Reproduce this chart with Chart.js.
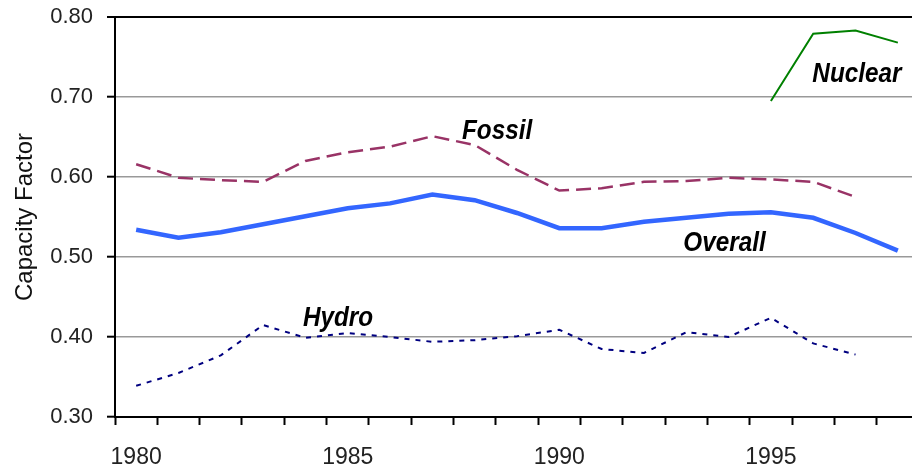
<!DOCTYPE html>
<html>
<head>
<meta charset="utf-8">
<script src="https://cdn.jsdelivr.net/npm/chart.js@4/dist/chart.umd.min.js"></script>
<style>
  html, body { margin: 0; padding: 0; background: #fff; overflow: hidden; }
  #wrap { width: 912px; height: 474px; overflow: hidden; }
</style>
</head>
<body>
<div id="wrap"><canvas id="cf" width="919" height="474"></canvas></div>
<script>
const years = ['1980', '1981', '1982', '1983', '1984', '1985', '1986', '1987', '1988', '1989',
               '1990', '1991', '1992', '1993', '1994', '1995', '1996', '1997', '1998'];
const overall = [0.534, 0.524, 0.531, 0.541, 0.551, 0.561, 0.567, 0.578, 0.571, 0.555,
                 0.536, 0.536, 0.544, 0.549, 0.554, 0.556, 0.549, 0.530, 0.508];
const fossil = [0.616, 0.599, 0.596, 0.594, 0.620, 0.631, 0.638, 0.651, 0.640, 0.609,
                0.583, 0.586, 0.594, 0.595, 0.599, 0.597, 0.594, 0.575, null];
const hydro = [0.339, 0.355, 0.377, 0.415, 0.399, 0.405, 0.400, 0.394, 0.396, 0.401,
               0.409, 0.385, 0.380, 0.406, 0.400, 0.424, 0.392, 0.378, null];
const nuclear = [null, null, null, null, null, null, null, null, null, null,
                 null, null, null, null, null, 0.695, 0.779, 0.783, 0.768];
const yTicks = [0.30, 0.40, 0.50, 0.60, 0.70, 0.80];

// series names written on the plot, anchored in data units (category index, value)
const seriesNames = ['Fossil', 'Overall', 'Hydro', 'Nuclear'];
const nameAtIndex = [7.70, 12.93, 3.94, 15.98];
const nameAtValue = [0.648, 0.5075, 0.414, 0.719];

const seriesLabels = {
    id: 'seriesLabels',
    afterDatasetsDraw(chart) {
        const ctx = chart.ctx;
        const xs = chart.scales.x, ys = chart.scales.y;
        ctx.save();
        ctx.fillStyle = '#000';
        ctx.font = 'italic bold 27px "Liberation Sans", Arial, sans-serif';
        ctx.textBaseline = 'alphabetic';
        ctx.textAlign = 'left';
        seriesNames.forEach((name, i) => {
            const px = xs.getPixelForValue(nameAtIndex[i]);
            const py = ys.getPixelForValue(nameAtValue[i]);
            ctx.save();
            ctx.translate(px, py);
            ctx.scale(0.9, 1);
            ctx.fillText(name, 0, 0);
            ctx.restore();
        });
        ctx.restore();
    }
};

const isTop = v => Math.abs(v - 0.8) < 1e-6;

new Chart(document.getElementById('cf'), {
    type: 'line',
    data: {
        labels: years,
        datasets: [
            { label: 'Overall', data: overall, borderColor: '#3366ff', borderWidth: 4.5, pointRadius: 0, tension: 0 },
            { label: 'Fossil', data: fossil, borderColor: '#993366', borderWidth: 2.5, borderDash: [15, 7], pointRadius: 0, tension: 0 },
            { label: 'Hydro', data: hydro, borderColor: '#000080', borderWidth: 2, borderDash: [5, 6], pointRadius: 0, tension: 0 },
            { label: 'Nuclear', data: nuclear, borderColor: '#008000', borderWidth: 2, pointRadius: 0, tension: 0 }
        ]
    },
    options: {
        responsive: false,
        animation: false,
        devicePixelRatio: 1,
        layout: { padding: { top: 17, right: 0, bottom: 0, left: 0 } },
        plugins: {
            legend: { display: false },
            tooltip: { enabled: false }
        },
        scales: {
            x: {
                type: 'category',
                offset: true,
                afterFit: s => {
                    s.height = 57;
                    s.paddingLeft = 0;
                    s.paddingRight = 0;
                },
                grid: {
                    offset: true,
                    drawOnChartArea: false,
                    tickLength: 8,
                    tickColor: '#000',
                    tickWidth: 2
                },
                border: { color: '#000', width: 2 },
                ticks: {
                    autoSkip: false,
                    maxRotation: 0,
                    padding: 19,
                    color: '#222',
                    font: { family: '"Liberation Sans", Arial', size: 23 },
                    callback: (v, i) => (Number(years[i]) % 5 === 0 ? years[i] : '')
                }
            },
            y: {
                min: yTicks[0],
                max: yTicks[yTicks.length - 1],
                afterFit: s => {
                    s.width = 115;
                    s.paddingTop = 0;
                    s.paddingBottom = 0;
                },
                afterBuildTicks: s => { s.ticks = yTicks.map(v => ({ value: v })); },
                grid: {
                    color: c => (isTop(c.tick.value) ? '#000' : '#999999'),
                    lineWidth: c => (isTop(c.tick.value) ? 2 : 1.4),
                    tickLength: 8,
                    tickColor: '#000',
                    tickWidth: 2
                },
                border: { color: '#000', width: 2 },
                ticks: {
                    padding: 14,
                    color: '#222',
                    font: { family: '"Liberation Sans", Arial', size: 22 },
                    callback: v => Number(v).toFixed(2)
                },
                title: {
                    display: true,
                    text: 'Capacity Factor',
                    color: '#111',
                    padding: { top: 11, bottom: 0 },
                    font: { family: '"Liberation Sans", Arial', size: 24 }
                }
            }
        }
    },
    plugins: [seriesLabels]
});
</script>
</body>
</html>
